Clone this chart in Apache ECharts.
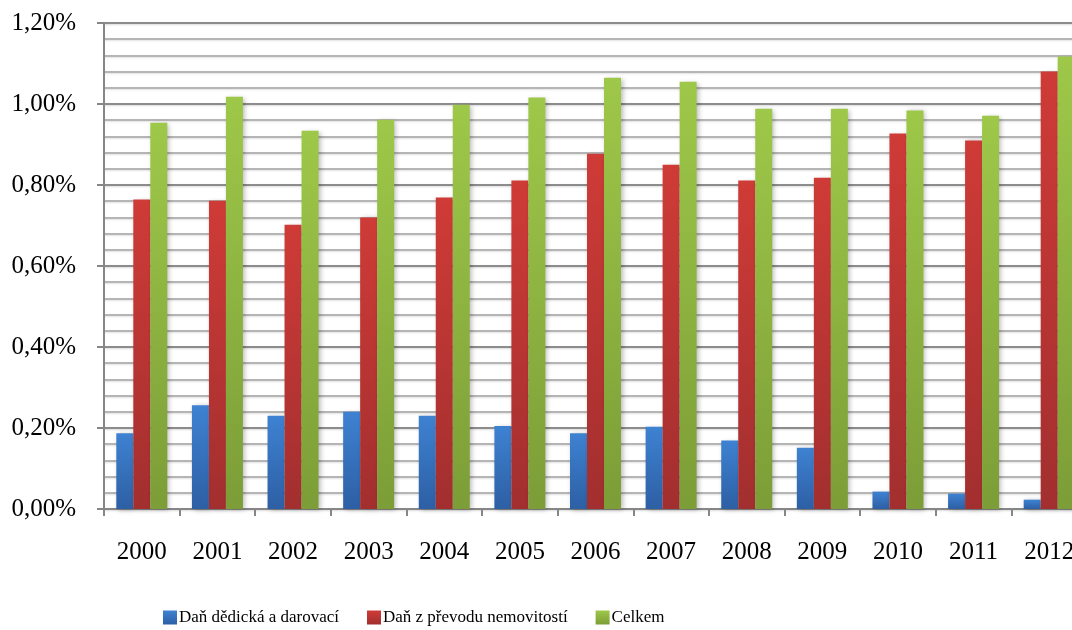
<!DOCTYPE html>
<html>
<head>
<meta charset="utf-8">
<script src="https://cdn.jsdelivr.net/npm/echarts@6/dist/echarts.min.js"></script>
<style>
  html, body { margin: 0; padding: 0; background: #ffffff; overflow: hidden; }
  /* the drawing runs a little past the right edge of the window, so the last column is cut */
  #chart { width: 1087px; height: 630px; }
</style>
</head>
<body>
<div id="chart"></div>
<script>
// Years on the category axis
const years = ['2000', '2001', '2002', '2003', '2004', '2005', '2006', '2007', '2008', '2009', '2010', '2011', '2012'];

// Shares in percent
const danDedicka = [0.187, 0.256, 0.230, 0.240, 0.230, 0.205, 0.187, 0.203, 0.169, 0.151, 0.043, 0.038, 0.023];
const danPrevod  = [0.764, 0.761, 0.702, 0.720, 0.769, 0.811, 0.877, 0.850, 0.811, 0.818, 0.927, 0.910, 1.080];
const celkem     = [0.954, 1.018, 0.934, 0.961, 0.998, 1.016, 1.065, 1.055, 0.988, 0.988, 0.984, 0.971, 1.117];

const seriesNames = ['Daň dědická a darovací', 'Daň z převodu nemovitostí', 'Celkem'];

const FONT = '"Liberation Serif", "Times New Roman", serif';

function grad(top, bottom) {
  return new echarts.graphic.LinearGradient(0, 0, 0, 1, [
    { offset: 0, color: top },
    { offset: 1, color: bottom }
  ]);
}

const barShadow = {
  shadowBlur: 5,
  shadowColor: 'rgba(0,0,0,0.28)',
  shadowOffsetX: 2,
  shadowOffsetY: 1
};

function barSeries(name, data, top, bottom) {
  return {
    name: name,
    type: 'bar',
    data: data,
    barWidth: 17,
    barGap: '0%',
    itemStyle: Object.assign({ color: grad(top, bottom) }, barShadow),
    emphasis: { disabled: true }
  };
}

const chart = echarts.init(document.getElementById('chart'), null, { renderer: 'canvas' });

chart.setOption({
  animation: false,
  backgroundColor: '#ffffff',
  grid: { left: 104, right: 0, top: 23, bottom: 121, containLabel: false },
  legend: {
    left: 163,
    top: 609,
    padding: 0,
    itemWidth: 14,
    itemHeight: 14,
    itemGap: 28,
    icon: 'rect',
    textStyle: { fontFamily: FONT, fontSize: 17, color: '#000000', padding: [0, 0, 0, -3] },
    data: seriesNames
  },
  xAxis: {
    type: 'category',
    data: years,
    axisLine: { show: true, lineStyle: { color: '#868686', width: 2 } },
    axisTick: { show: true, length: 7, lineStyle: { color: '#868686', width: 2 } },
    axisLabel: { fontFamily: FONT, fontSize: 25, color: '#000000', margin: 31 },
    splitLine: { show: false }
  },
  yAxis: {
    type: 'value',
    min: 0,
    max: 1.2,
    interval: 0.2,
    axisLine: { show: true, lineStyle: { color: '#868686', width: 2 } },
    axisTick: { show: true, length: 7, lineStyle: { color: '#868686', width: 2 } },
    axisLabel: {
      fontFamily: FONT, fontSize: 25, color: '#000000', margin: 28,
      formatter: v => v.toFixed(2).replace('.', ',') + '%'
    },
    splitLine: {
      show: true,
      lineStyle: { color: '#8c8c8c', width: 2, shadowBlur: 2, shadowColor: 'rgba(0,0,0,0.15)', shadowOffsetY: 1 }
    },
    minorTick: { show: false, splitNumber: 5 },
    minorSplitLine: {
      show: true,
      lineStyle: { color: '#b5b5b5', width: 2, shadowBlur: 2, shadowColor: 'rgba(0,0,0,0.12)', shadowOffsetY: 1 }
    }
  },
  series: [
    barSeries(seriesNames[0], danDedicka, '#3e82d2', '#2d5fa4'),
    barSeries(seriesNames[1], danPrevod, '#cf3b37', '#a22f2f'),
    barSeries(seriesNames[2], celkem, '#9ec849', '#7c9d37')
  ]
});
</script>
</body>
</html>
